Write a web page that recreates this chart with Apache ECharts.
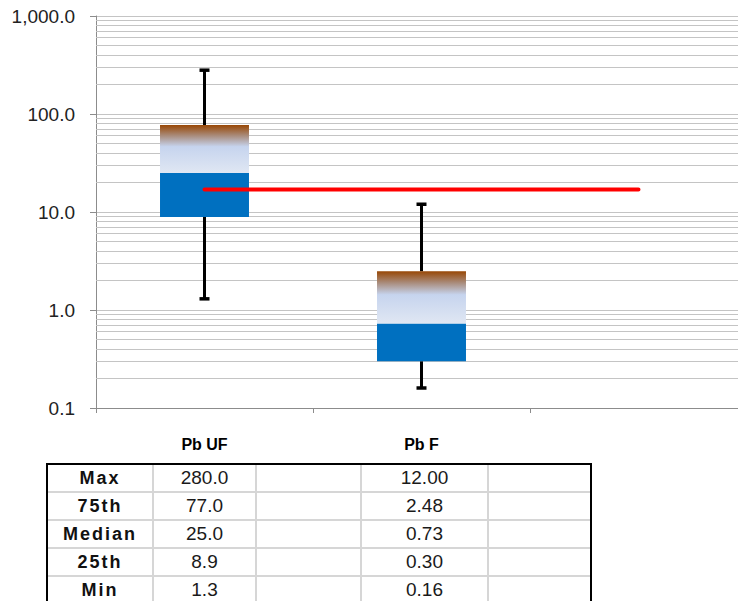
<!DOCTYPE html>
<html>
<head>
<meta charset="utf-8">
<script src="https://cdn.jsdelivr.net/npm/echarts@6/dist/echarts.min.js"></script>
<style>
html,body{margin:0;padding:0;background:#fff;overflow:hidden;}
#chart{position:absolute;left:0;top:0;width:738px;height:601px;}
#wrap{position:absolute;left:46px;top:463px;border:2px solid #000;border-bottom:none;overflow:hidden;}
#tbl{border-collapse:collapse;border-style:hidden;font-family:"Liberation Sans",Arial,sans-serif;color:#1a1a1a;}
#tbl td{border:2px solid #d6d6d6;height:26px;padding:0;text-align:center;font-size:19px;line-height:26px;}
#tbl td.lbl{font-weight:bold;letter-spacing:2px;font-size:18px;color:#111;}
</style>
</head>
<body>
<div id="chart"></div>
<div id="wrap"><table id="tbl"></table></div>
<script>
// ---- data ----
const categories = ['Pb UF', 'Pb F', ''];
const statNames = ['Max', '75th', 'Median', '25th', 'Min'];
const pbUF = { min: 1.3, q1: 8.9, median: 25.0, q3: 77.0, max: 280.0 };
const pbF  = { min: 0.16, q1: 0.30, median: 0.73, q3: 2.48, max: 12.00 };
const thresholdValues = [17, 17, 17];
const yTickLabels = [0.1, 1, 10, 100, 1000];
const minorGridValues = [0.2,0.3,0.4,0.5,0.6,0.7,0.8,0.9, 2,3,4,5,6,7,8,9, 20,30,40,50,60,70,80,90, 200,300,400,500,600,700,800,900];

const boxes = [pbUF, pbF];
const boxData = boxes.map((b, i) => [i, b.min, b.q1, b.median, b.q3, b.max]);

// ---- table ----
const tbl = document.getElementById('tbl');
const keys = ['max', 'q3', 'median', 'q1', 'min'];
const colW = [104, 101, 103, 125, 101];
statNames.forEach((name, r) => {
  const tr = document.createElement('tr');
  const cells = [name, pbUF[keys[r]].toFixed(1), '', pbF[keys[r]].toFixed(2), ''];
  cells.forEach((c, ci) => {
    const td = document.createElement('td');
    td.textContent = c;
    td.style.width = colW[ci] + 'px';
    if (ci === 0) td.className = 'lbl';
    tr.appendChild(td);
  });
  tbl.appendChild(tr);
});

// ---- chart ----
const chart = echarts.init(document.getElementById('chart'), null, { renderer: 'svg' });
const fmt = v => Number(v).toLocaleString('en-US', { minimumFractionDigits: 1, maximumFractionDigits: 1 });

const option = {
  animation: false,
  grid: { left: 96, top: 16, width: 651, height: 392, containLabel: false, outerBoundsMode: 'none' },
  xAxis: {
    type: 'category',
    data: categories,
    boundaryGap: true,
    axisLine: { lineStyle: { color: '#8c8c8c', width: 1 } },
    axisTick: { show: true, length: 5, lineStyle: { color: '#8c8c8c' } },
    axisLabel: { margin: 28, fontFamily: 'Liberation Sans, Arial, sans-serif', fontWeight: 'bold', fontSize: 16, color: '#000' },
    splitLine: { show: false }
  },
  yAxis: {
    type: 'log',
    logBase: 10,
    min: yTickLabels[0],
    max: yTickLabels[yTickLabels.length - 1],
    axisLine: { show: true, lineStyle: { color: '#8c8c8c', width: 1 } },
    axisTick: { show: true, length: 6, lineStyle: { color: '#8c8c8c' } },
    axisLabel: { margin: 21, fontFamily: 'Liberation Sans, Arial, sans-serif', fontSize: 19, color: '#222', formatter: fmt },
    splitLine: { show: true, lineStyle: { color: '#c4c4c4', width: 1 } }
  },
  series: [
    {
      type: 'line',
      data: [null, null, null],
      silent: true,
      z: 1,
      markLine: {
        z: 1,
        silent: true,
        symbol: ['none', 'none'],
        label: { show: false },
        lineStyle: { color: '#c4c4c4', width: 1, type: 'solid' },
        data: minorGridValues.map(v => ({ yAxis: v }))
      }
    },
    {
      type: 'custom',
      z: 3,
      data: boxData,
      renderItem: function (params, api) {
        const idx = api.value(0);
        const pMin = api.coord([idx, api.value(1)]);
        const pQ1 = api.coord([idx, api.value(2)]);
        const pMed = api.coord([idx, api.value(3)]);
        const pQ3 = api.coord([idx, api.value(4)]);
        const pMax = api.coord([idx, api.value(5)]);
        const band = api.size([1, 1])[0];
        const bw = band * 0.41;
        const cx = pMed[0];
        const x0 = cx - bw / 2;
        const capW = 10;
        const lineStyle = { stroke: '#000', lineWidth: 3 };
        return {
          type: 'group',
          children: [
            { type: 'line', shape: { x1: cx, y1: pQ3[1], x2: cx, y2: pMax[1] }, style: lineStyle },
            { type: 'line', shape: { x1: cx - capW / 2, y1: pMax[1], x2: cx + capW / 2, y2: pMax[1] }, style: { stroke: '#000', lineWidth: 3.5 } },
            { type: 'line', shape: { x1: cx, y1: pQ1[1], x2: cx, y2: pMin[1] }, style: lineStyle },
            { type: 'line', shape: { x1: cx - capW / 2, y1: pMin[1], x2: cx + capW / 2, y2: pMin[1] }, style: { stroke: '#000', lineWidth: 3.5 } },
            { type: 'rect', shape: { x: x0, y: pMed[1], width: bw, height: pQ1[1] - pMed[1] }, style: { fill: '#0070c0' } },
            { type: 'rect', shape: { x: x0, y: pQ3[1], width: bw, height: pMed[1] - pQ3[1] },
              style: { fill: new echarts.graphic.LinearGradient(0, 0, 0, 1, [
                { offset: 0, color: '#984806' },
                { offset: 0.22, color: '#a98c7c' },
                { offset: 0.45, color: '#c6d4ee' },
                { offset: 1, color: '#e0e7f3' }
              ]) } }
          ]
        };
      }
    },
    {
      type: 'line',
      data: thresholdValues,
      z: 5,
      symbol: 'none',
      silent: true,
      lineStyle: { color: '#ff0000', width: 4, cap: 'round' }
    }
  ]
};
chart.setOption(option);
</script>
</body>
</html>
